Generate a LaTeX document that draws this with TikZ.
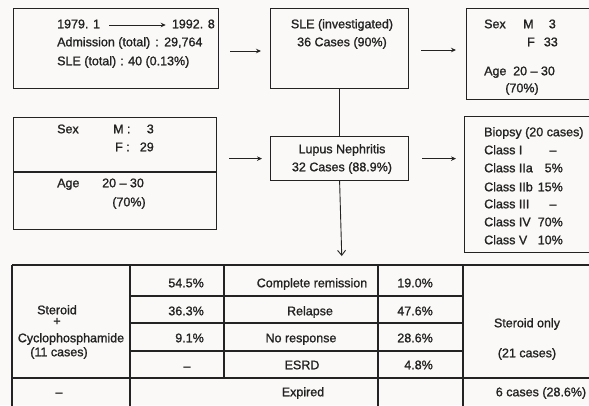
\documentclass[tikz,border=0pt]{standalone}
\usepackage{fontspec}
\setmainfont{Liberation Sans}[FakeBold=1.2]
\usetikzlibrary{arrows.meta}
\definecolor{paper}{RGB}{250,249,247}
\definecolor{ink}{RGB}{35,35,35}
\begin{document}
\begin{tikzpicture}[x=1pt,y=-1pt,
  every node/.style={font=\fontsize{12.5}{14}\selectfont, text=ink, inner sep=0pt},
  box/.style={draw=ink, line width=1.2pt, anchor=north west},
  txt/.style={text height=9pt, text depth=2.5pt},
  L/.style={txt, anchor=west},
  R/.style={txt, anchor=east},
  C/.style={txt, anchor=center},
  arr/.style={draw=ink, line width=0.9pt, -{Stealth[length=5pt,width=4.5pt]}},
  darr/.style={draw=ink, line width=0.9pt, -{Straight Barb[length=5pt,width=8pt]}},
  ln/.style={draw=ink, line width=1.1pt}]
\fill[paper] (0,0) rectangle (589,405);
\useasboundingbox (0,0) rectangle (589,405);
\clip (0,0) rectangle (589,405);

% boxes
\node[box, minimum width=205pt, minimum height=80pt] (b1) at (13,8) {};
\node[box, minimum width=138pt, minimum height=80pt] (sle) at (270,8) {};
\node[box, minimum width=140pt, minimum height=91pt] (rt) at (466,8) {};
\node[box, minimum width=203pt, minimum height=112pt] (lm) at (13,117) {};
\coordinate (lmdiv) at (0,172);
\draw[ln] (lm.west |- lmdiv) -- (lm.east |- lmdiv);
\node[box, minimum width=138pt, minimum height=44pt] (lup) at (270,136) {};
\node[box, minimum width=140pt, minimum height=136pt] (bio) at (464,116) {};

% box 1 text
\node[L] (y1) at (57,25) {1979. 1};
\node[R] (y2) at (215,25) {1992. 8};
\draw[arr, shorten <=9pt, shorten >=6pt] (y1.east) -- (y2.west);
\node[L] (adm) at (57,43) {Admission (total)};
\node[C] (admc) at (157,43) {:};
\node[L] (admn) at (164,43) {29,764};
\node[L] (slet) at (57,62) {SLE (total)};
\node[C] (sletc) at (122,62) {:};
\node[L] (sletn) at (128,62) {40 (0.13\%)};

% SLE box text
\node[C] (sle1) at (342,25) {SLE (investigated)};
\node[C] (sle2) at (342,43) {36 Cases (90\%)};

% right top box text
\node[L] (rsex) at (484,25) {Sex};
\node[L] (rm) at (523,25) {M};
\node[R] (rm3) at (556,25) {3};
\node[L] (rf) at (527,43) {F};
\node[R] (rf33) at (558,43) {33};
\node[L] (rage) at (484,72) {Age};
\node[L] (rage2) at (513,72) {20 \textendash{} 30};
\node[C] (rpct) at (522,89) {(70\%)};

% lupus box
\node[C] (lup1) at (342,150) {Lupus Nephritis};
\node[C] (lup2) at (342,168) {32 Cases (88.9\%)};

% left middle box
\node[L] (lsex) at (57,130) {Sex};
\node[L] (lm1) at (113,130) {M :};
\node[R] (lm2) at (154,130) {3};
\node[L] (lf1) at (115,148) {F :};
\node[R] (lf2) at (154,148) {29};
\node[L] (lage) at (57,184) {Age};
\node[L] (lage2) at (102,184) {20 \textendash{} 30};
\node[C] (lpct) at (129,203) {(70\%)};

% biopsy box
\node[L] (bi0) at (484,133) {Biopsy (20 cases)};
\node[L] (bi1) at (484,151) {Class I};
\node[L] (bi2) at (484,169) {Class IIa};
\node[L] (bi3) at (484,188) {Class IIb};
\node[L] (bi4) at (484,205) {Class III};
\node[L] (bi5) at (484,223) {Class IV};
\node[L] (bi6) at (484,241) {Class V};
\node[C] (bv1) at (553,151) {\textendash};
\node[R] (bv2) at (563,169) {5\%};
\node[R] (bv3) at (563,188) {15\%};
\node[C] (bv4) at (553,205) {\textendash};
\node[R] (bv5) at (563,223) {70\%};
\node[R] (bv6) at (563,241) {10\%};

% connectors
\draw[arr, shorten <=11pt, shorten >=9pt] (b1.east |- 0,51) -- (sle.west |- 0,51);
\draw[arr, shorten <=12pt, shorten >=10pt] (sle.east |- 0,50) -- (rt.west |- 0,50);
\draw[arr, shorten <=12pt, shorten >=8pt] (lup.west -| lm.east) -- (lup.west);
\draw[arr, shorten <=13pt, shorten >=8pt] (lup.east) -- (lup.east -| bio.west);
\draw[ln, line width=1pt] (sle.south) -- (lup.north);
\coordinate (ttop) at (342,265);
\draw[darr, shorten >=9pt] (lup.south) -- (ttop);

% table grid
\draw[ln] (12,265) -- (600,265);
\draw[ln] (12,378) -- (600,378);
\draw[ln] (130,296) -- (463,296);
\draw[ln] (130,323) -- (463,323);
\draw[ln] (130,351) -- (463,351);
\draw[ln] (12,265) -- (12,410);
\draw[ln] (130,265) -- (130,410);
\draw[ln] (224,265) -- (224,378);
\draw[ln] (378,265) -- (378,410);
\draw[ln] (463,265) -- (463,410);

% table text
\node[C] (c1a) at (57,311) {Steroid};
\node[C] (c1b) at (57,322) {+};
\node[C] (c1c) at (71,339) {Cyclophosphamide};
\node[C] (c1d) at (59,353) {(11 cases)};
\node[C] (c1e) at (59,393) {\textendash};

\node[R] (c2a) at (204,284) {54.5\%};
\node[R] (c2b) at (204,312) {36.3\%};
\node[R] (c2c) at (204,339) {9.1\%};
\node[C] (c2d) at (187,367) {\textendash};

\node[C] (c3a) at (312,284) {Complete remission};
\node[C] (c3b) at (310,312) {Relapse};
\node[C] (c3c) at (301,339) {No response};
\node[C] (c3d) at (302,366) {ESRD};
\node[C] (c3e) at (303,393) {Expired};

\node[R] (c4a) at (433,284) {19.0\%};
\node[R] (c4b) at (433,312) {47.6\%};
\node[R] (c4c) at (433,339) {28.6\%};
\node[R] (c4d) at (433,366) {4.8\%};

\node[C] (c5a) at (527,324) {Steroid only};
\node[C] (c5b) at (527,354) {(21 cases)};
\node[C] (c5c) at (541,393) {6 cases (28.6\%)};
\end{tikzpicture}
\end{document}
